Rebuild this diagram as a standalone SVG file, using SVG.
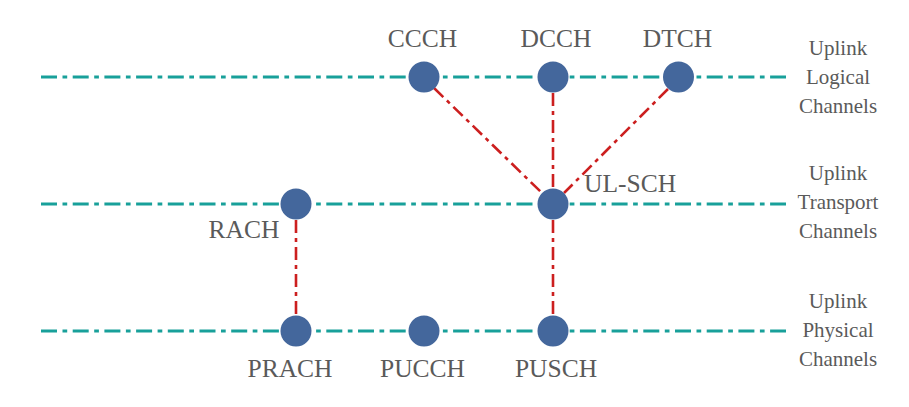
<svg xmlns="http://www.w3.org/2000/svg" width="909" height="407" viewBox="0 0 909 407">
<style>
.lane{stroke:#18a09a;stroke-width:3;fill:none;stroke-dasharray:16 5.5 4.7 5.5}
.link{stroke:#cc1f1f;stroke-width:2.6;fill:none;stroke-dasharray:13 5 4 5}
.node{fill:#44679c}
.lbl{font-family:"Liberation Serif","Times New Roman",serif;font-size:25.5px;fill:#5a5a5a;text-anchor:middle}
.side{font-family:"Liberation Serif","Times New Roman",serif;font-size:21px;fill:#5a5a5a;text-anchor:middle}
</style>
<rect width="909" height="407" fill="#ffffff"/>
<g id="lanes">
<line class="lane" x1="41" y1="77" x2="786" y2="77"/>
<line class="lane" x1="41" y1="204" x2="786" y2="204"/>
<line class="lane" x1="41" y1="331" x2="786" y2="331"/>
</g>
<g id="connectors">
<line class="link" x1="434" y1="88" x2="542" y2="193"/>
<line class="link" x1="553" y1="93" x2="553" y2="188"/>
<line class="link" x1="668" y1="89" x2="564" y2="193"/>
<line class="link" x1="553" y1="220" x2="553" y2="315"/>
<line class="link" x1="296" y1="220" x2="296" y2="315"/>
</g>
<g id="CCCH"><circle class="node" cx="424" cy="77" r="15.5"/><text class="lbl" x="422.5" y="47">CCCH</text></g>
<g id="DCCH"><circle class="node" cx="553" cy="77" r="15.5"/><text class="lbl" x="556" y="47">DCCH</text></g>
<g id="DTCH"><circle class="node" cx="678.5" cy="77" r="15.5"/><text class="lbl" x="677.5" y="47">DTCH</text></g>
<g id="RACH"><circle class="node" cx="296" cy="204" r="15.5"/><text class="lbl" x="244" y="238">RACH</text></g>
<g id="UL-SCH"><circle class="node" cx="553" cy="204" r="15.5"/><text class="lbl" x="584" y="192" style="text-anchor:start">UL-SCH</text></g>
<g id="PRACH"><circle class="node" cx="296" cy="331" r="15.5"/><text class="lbl" x="290" y="377">PRACH</text></g>
<g id="PUCCH"><circle class="node" cx="424" cy="331" r="15.5"/><text class="lbl" x="422.5" y="377">PUCCH</text></g>
<g id="PUSCH"><circle class="node" cx="553" cy="331" r="15.5"/><text class="lbl" x="556" y="377">PUSCH</text></g>
<g id="label-logical"><text class="side" x="838" y="55">Uplink</text><text class="side" x="838" y="84">Logical</text><text class="side" x="838" y="113">Channels</text></g>
<g id="label-transport"><text class="side" x="838" y="180">Uplink</text><text class="side" x="838" y="209">Transport</text><text class="side" x="838" y="238">Channels</text></g>
<g id="label-physical"><text class="side" x="838" y="308">Uplink</text><text class="side" x="838" y="337">Physical</text><text class="side" x="838" y="366">Channels</text></g>
</svg>
